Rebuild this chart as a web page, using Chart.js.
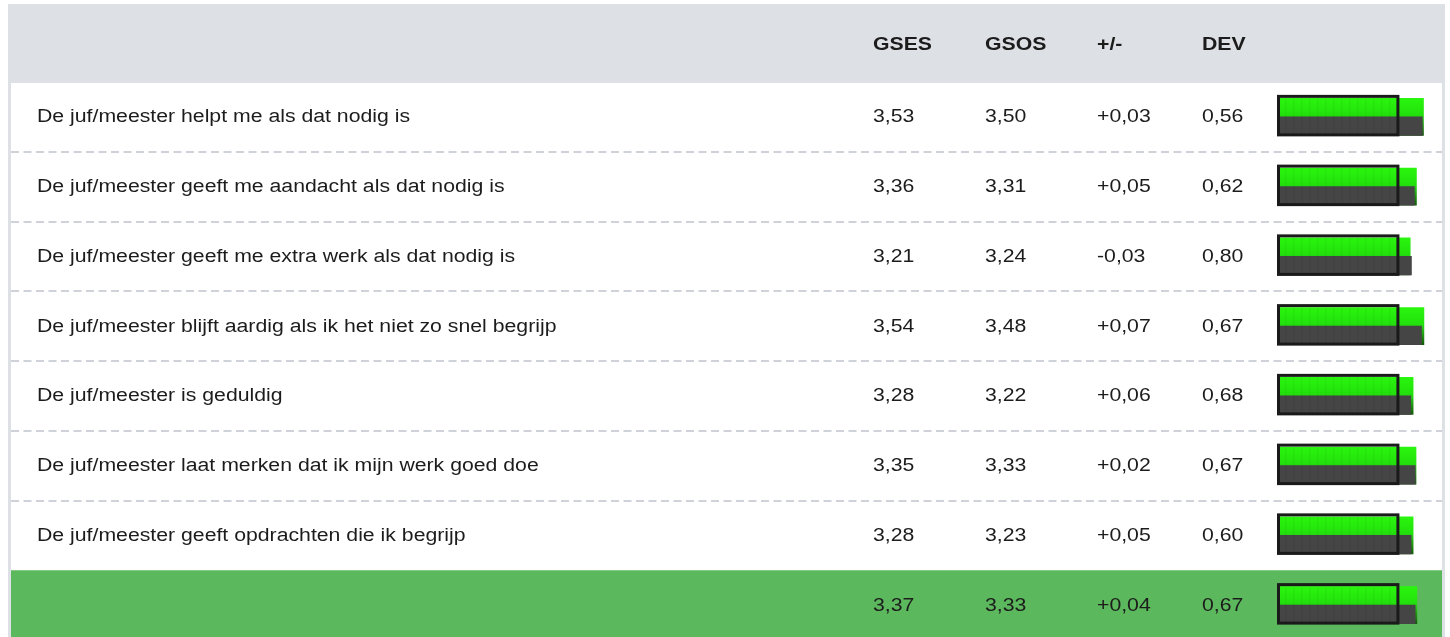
<!DOCTYPE html>
<html lang="nl">
<head>
<meta charset="UTF-8">
<title>Leerkracht - ondersteuning</title>
<script src="https://cdn.jsdelivr.net/npm/chart.js@4.4.0/dist/chart.umd.min.js"></script>
<style>
    html, body { margin: 0; padding: 0; background: #fff; overflow: hidden; }
    #wrap { width: 1450px; height: 640px; }
</style>
</head>
<body>
<div id="wrap"><canvas id="chart" width="1450" height="640"></canvas></div>
<script>
// rijen van de tabel (laatste rij = totaal)
const items = [
    'De juf/meester helpt me als dat nodig is',
    'De juf/meester geeft me aandacht als dat nodig is',
    'De juf/meester geeft me extra werk als dat nodig is',
    'De juf/meester blijft aardig als ik het niet zo snel begrijp',
    'De juf/meester is geduldig',
    'De juf/meester laat merken dat ik mijn werk goed doe',
    'De juf/meester geeft opdrachten die ik begrijp',
    ''
];
const headers = ['GSES', 'GSOS', '+/-', 'DEV'];
const gses = [3.53, 3.36, 3.21, 3.54, 3.28, 3.35, 3.28, 3.37];
const gsos = [3.50, 3.31, 3.24, 3.48, 3.22, 3.33, 3.23, 3.33];
const diffs = [0.03, 0.05, -0.03, 0.07, 0.06, 0.02, 0.05, 0.04];
const devs = [0.56, 0.62, 0.80, 0.67, 0.68, 0.67, 0.60, 0.67];
const frameMax = 2.95;

const colX = [873, 985, 1097, 1202];
const FONT = '"Liberation Sans", Arial, sans-serif';

function fmt(v) { return v.toFixed(2).replace('.', ','); }
function fmtDiff(v) { return (v >= 0 ? '+' : '-') + fmt(Math.abs(v)); }

function drawText(ctx, str, x, y, bold) {
    ctx.save();
    ctx.font = (bold ? 'bold ' : '') + '18px ' + FONT;
    ctx.fillStyle = '#1c1c1c';
    ctx.textBaseline = 'alphabetic';
    ctx.translate(x, y);
    ctx.scale(1.18, 1);
    ctx.fillText(str, 0, 0);
    ctx.restore();
}

function greenFill(c) {
    const chart = c.chart;
    if (c.type !== 'data' || !chart.chartArea) return '#22e00c';
    const yc = chart.scales.y.getPixelForValue(c.dataIndex);
    const g = chart.ctx.createLinearGradient(0, yc - 18.5, 0, yc + 18.5);
    g.addColorStop(0, '#2af60e');
    g.addColorStop(0.45, '#22e00c');
    g.addColorStop(0.55, '#26c416');
    g.addColorStop(1, '#135a08');
    return g;
}

const tablePlugin = {
    id: 'table',
    beforeDraw(chart) {
        const ctx = chart.ctx;
        const y = chart.scales.y;
        const n = items.length;
        const step = y.getPixelForValue(1) - y.getPixelForValue(0);
        const top = chart.chartArea.top;
        ctx.save();
        ctx.fillStyle = '#fff';
        ctx.fillRect(0, 0, chart.width, chart.height);
        // kop
        ctx.fillStyle = '#dde0e5';
        ctx.fillRect(8, 4, 1437, top - 4 + 1);
        // randen
        ctx.fillRect(8, top, 3, chart.height);
        ctx.fillRect(1442, top, 3, chart.height);
        // totaalrij
        const totTop = y.getPixelForValue(n - 1) - step / 2;
        ctx.fillStyle = '#5cb85c';
        ctx.fillRect(11, totTop, 1431, chart.height - totTop);
        // stippellijnen
        ctx.strokeStyle = '#cfd3d9';
        ctx.lineWidth = 2;
        ctx.setLineDash([8, 4.5]);
        for (let i = 0; i < n - 2; i++) {
            const yy = Math.round((y.getPixelForValue(i) + y.getPixelForValue(i + 1)) / 2);
            ctx.beginPath();
            ctx.moveTo(11, yy);
            ctx.lineTo(1442, yy);
            ctx.stroke();
        }
        ctx.restore();
    },
    afterDatasetsDraw(chart) {
        const ctx = chart.ctx;
        const x = chart.scales.x;
        const y = chart.scales.y;
        const x0 = x.getPixelForValue(0);
        const x1 = x.getPixelForValue(frameMax);
        ctx.save();
        items.forEach((label, i) => {
            const yc = y.getPixelForValue(i);
            // streepjes in de balk
            ctx.fillStyle = 'rgba(0,0,0,0.045)';
            for (let sx = x0 + 8; sx < x1 - 3; sx += 8) {
                ctx.fillRect(sx, yc - 18.5, 1.5, 37);
            }
            // kader
            ctx.strokeStyle = '#1a1a1a';
            ctx.lineWidth = 3;
            ctx.setLineDash([]);
            ctx.strokeRect(x0 + 1.5, yc - 20.5, x1 - x0 - 3, 38.5);
            // tekst
            if (label) drawText(ctx, label, 37, yc + 5.5, false);
            drawText(ctx, fmt(gses[i]), colX[0], yc + 5.5, false);
            drawText(ctx, fmt(gsos[i]), colX[1], yc + 5.5, false);
            drawText(ctx, fmtDiff(diffs[i]), colX[2], yc + 5.5, false);
            drawText(ctx, fmt(devs[i]), colX[3], yc + 5.5, false);
        });
        headers.forEach((h, j) => drawText(ctx, h, colX[j], 50, true));
        ctx.restore();
    }
};

new Chart(document.getElementById('chart'), {
    type: 'bar',
    data: {
        labels: items,
        datasets: [{
            label: 'GSES',
            data: gses,
            grouped: false,
            barThickness: 37,
            backgroundColor: greenFill,
            order: 2,
            stack: 'a'
        }, {
            label: '',
            data: gses.map(() => null),
            barThickness: 18.5,
            order: 0,
            stack: 'b'
        }, {
            label: 'GSOS',
            data: gsos,
            barThickness: 18.5,
            backgroundColor: '#454545',
            order: 1,
            stack: 'c'
        }]
    },
    options: {
        responsive: false,
        animation: false,
        events: [],
        indexAxis: 'y',
        layout: { padding: { left: 1277, right: 7, top: 82, bottom: 0 } },
        plugins: {
            legend: { display: false },
            tooltip: { enabled: false }
        },
        scales: {
            x: { display: false, min: 0, max: 4 },
            y: { display: false, offset: true }
        }
    },
    plugins: [tablePlugin]
});
</script>
</body>
</html>
